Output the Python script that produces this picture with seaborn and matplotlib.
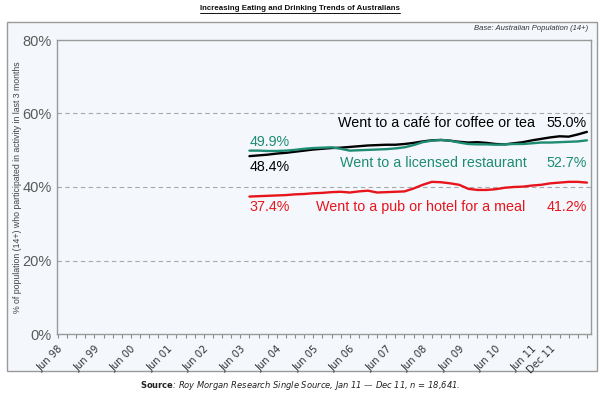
import numpy as np
import pandas as pd
import matplotlib
matplotlib.use("Agg")
import matplotlib.pyplot as plt
import seaborn as sns
from matplotlib.patches import Rectangle
from matplotlib.lines import Line2D

# x axis: quarter index counted from Jun 98 (0) ; labels shown every June + Dec 11
tick_pos = [0, 4, 8, 12, 16, 20, 24, 28, 32, 36, 40, 44, 48, 52, 54]
tick_labels = ["Jun 98", "Jun 99", "Jun 00", "Jun 01", "Jun 02", "Jun 03", "Jun 04",
               "Jun 05", "Jun 06", "Jun 07", "Jun 08", "Jun 09", "Jun 10", "Jun 11", "Dec 11"]

quarter = list(range(21, 59))

cafe = [48.4, 48.6, 48.8, 49.1, 49.3, 49.6, 49.9, 50.2, 50.4, 50.6,
        50.7, 50.9, 51.1, 51.3, 51.4, 51.5, 51.5, 51.7, 52.0, 52.4,
        52.7, 52.8, 52.6, 52.3, 52.1, 52.2, 52.0, 51.7, 51.6, 51.9,
        52.2, 52.7, 53.1, 53.5, 53.8, 53.7, 54.3, 55.0]
restaurant = [49.9, 49.9, 49.8, 49.8, 49.9, 50.1, 50.4, 50.6, 50.7, 50.8,
              50.4, 49.9, 50.0, 50.1, 50.2, 50.3, 50.5, 50.8, 51.4, 52.2,
              52.6, 52.8, 52.6, 52.1, 51.7, 51.6, 51.6, 51.5, 51.6, 51.7,
              51.7, 51.9, 52.1, 52.1, 52.2, 52.3, 52.4, 52.7]
pub = [37.4, 37.5, 37.6, 37.7, 37.8, 38.0, 38.1, 38.3, 38.4, 38.6,
       38.7, 38.5, 38.8, 39.0, 38.5, 38.6, 38.7, 38.8, 39.6, 40.6,
       41.4, 41.3, 41.0, 40.6, 39.5, 39.2, 39.2, 39.4, 39.8, 40.0,
       40.1, 40.4, 40.6, 41.0, 41.2, 41.4, 41.4, 41.2]

series_names = ["Went to a café for coffee or tea",
                "Went to a licensed restaurant",
                "Went to a pub or hotel for a meal"]
colors = ["#000000", "#1E8C72", "#E8141C"]

df = pd.concat([
    pd.DataFrame({"quarter": quarter, "pct": cafe, "activity": series_names[0]}),
    pd.DataFrame({"quarter": quarter, "pct": restaurant, "activity": series_names[1]}),
    pd.DataFrame({"quarter": quarter, "pct": pub, "activity": series_names[2]}),
])

bg = "#F4F8FC"
sns.set_style("white", {"axes.facecolor": bg})
plt.rcParams["font.family"] = ["Liberation Sans", "DejaVu Sans"]

fig = plt.figure(figsize=(6, 3.98), dpi=100)
fig.patch.set_facecolor("white")

# outer frame (behind the axes)
frame = Rectangle((7 / 600, 1 - 371 / 398), 590 / 600, 349 / 398,
                  transform=fig.transFigure, facecolor=bg,
                  edgecolor="#9A9A9A", linewidth=1, zorder=-5)
fig.patches.append(frame)

ax = fig.add_axes([57 / 600, 1 - 334 / 398, 534 / 600, 294 / 398])
ax.set_zorder(2)
ax.set_facecolor(bg)

sns.lineplot(data=df, x="quarter", y="pct", hue="activity", palette=colors,
             linewidth=1.7, legend=False, ax=ax)

ax.set_xlim(-0.1, 58.45)
ax.set_ylim(0, 80)

ax.set_yticks([0, 20, 40, 60, 80])
ax.set_yticklabels(["0%", "20%", "40%", "60%", "80%"], fontsize=10.5, color="#5A5A5A")
for yv in [20, 40, 60]:
    ax.axhline(yv, color="#A8A8A8", linestyle=(0, (4, 3)), linewidth=0.8, zorder=0)

ax.set_xticks(tick_pos)
ax.set_xticks(range(0, 59), minor=True)
ax.set_xticklabels(tick_labels, rotation=45, ha="right", rotation_mode="anchor",
                   fontsize=7.2, color="#333333", family=["DejaVu Sans"])
ax.tick_params(axis="x", which="both", bottom=True, direction="out", length=3,
               width=0.8, color="#8A8A8A", pad=4)
ax.tick_params(axis="y", left=False, length=0, pad=4)

for sp in ax.spines.values():
    sp.set_color("#9A9A9A")
    sp.set_linewidth(1)

ax.set_xlabel("")
ax.set_ylabel("% of population (14+) who participated in activity in last 3 months",
              fontsize=6.3, color="#444444")
ax.yaxis.set_label_coords(-0.066, 0.5)

# line annotations
fs = 10.3
ax.text(52.3, 57.5, series_names[0], color=colors[0], fontsize=fs, ha="right", va="center")
ax.text(58.0, 57.5, "55.0%", color=colors[0], fontsize=fs, ha="right", va="center")
ax.text(21.0, 52.3, "49.9%", color=colors[1], fontsize=fs, ha="left", va="center")
ax.text(21.0, 45.5, "48.4%", color=colors[0], fontsize=fs, ha="left", va="center")
ax.text(51.4, 46.5, series_names[1], color=colors[1], fontsize=fs, ha="right", va="center")
ax.text(58.0, 46.5, "52.7%", color=colors[1], fontsize=fs, ha="right", va="center")
ax.text(21.0, 34.5, "37.4%", color=colors[2], fontsize=fs, ha="left", va="center")
ax.text(51.2, 34.5, series_names[2], color=colors[2], fontsize=fs, ha="right", va="center")
ax.text(58.0, 34.5, "41.2%", color=colors[2], fontsize=fs, ha="right", va="center")

# header and footer
title = fig.text(0.5, 1 - 9 / 398, "Increasing Eating and Drinking Trends of Australians",
                 ha="center", va="center", fontsize=5.7, fontweight="bold",
                 color="#111111")
fig.text(588 / 600, 1 - 29 / 398, "Base: Australian Population (14+)", ha="right",
         va="center", fontsize=5.5, style="italic", color="#333333", zorder=5)
fig.text(0.5, 1 - 385 / 398,
         r"$\bf{Source}$: Roy Morgan Research Single Source, Jan 11 — Dec 11, n = 18,641.",
         ha="center", va="center", fontsize=6.0, style="italic", color="#222222",
         family=["DejaVu Sans"])

# underline for the title
fig.canvas.draw()
bb = title.get_window_extent().transformed(fig.transFigure.inverted())
fig.lines.append(Line2D([bb.x0, bb.x1], [bb.y0 - 0.002, bb.y0 - 0.002],
                        transform=fig.transFigure, color="#111111", linewidth=0.7))

fig.savefig("out.png", dpi=100, facecolor="white")
